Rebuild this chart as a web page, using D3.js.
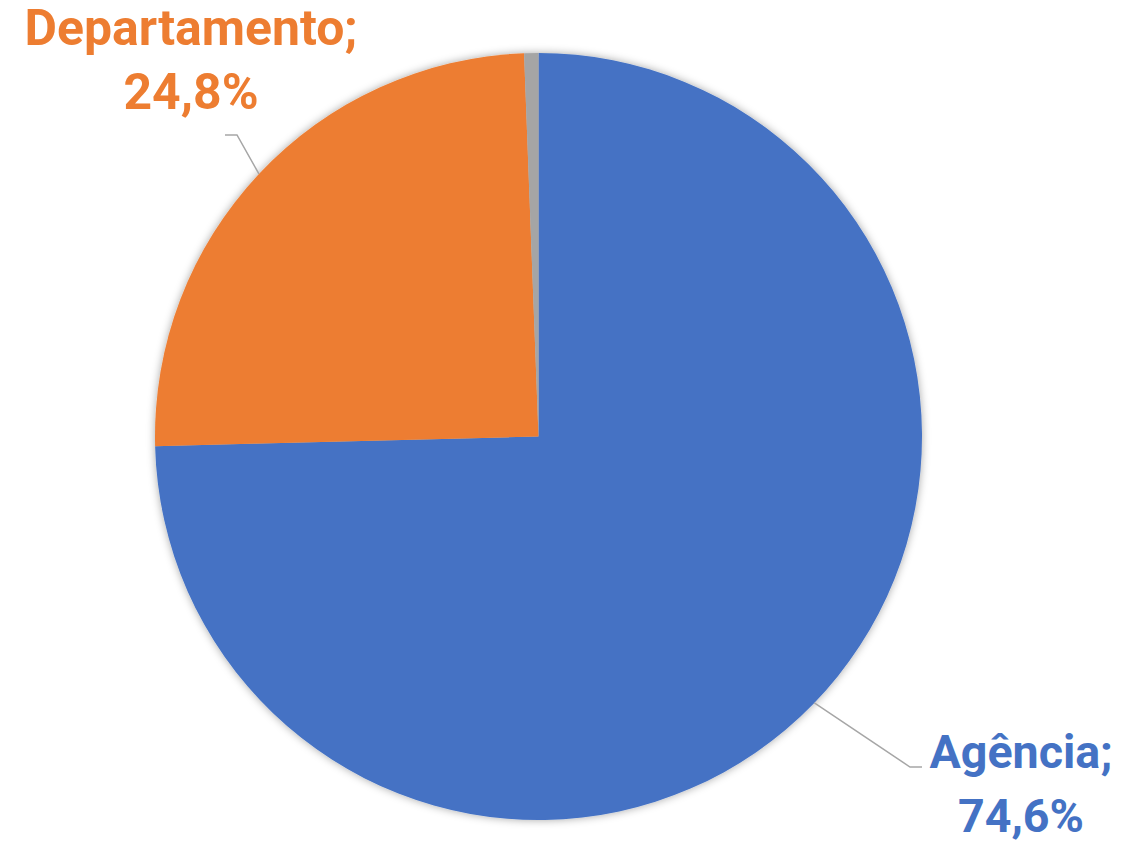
<!DOCTYPE html>
<html>
<head>
  <meta charset="utf-8">
  <script src="https://d3js.org/d3.v7.min.js"></script>
  <style>
    body { margin: 0; background: #fff; }
    text { font-family: Roboto, "Open Sans", sans-serif; font-weight: bold; }
  </style>
</head>
<body>
  <svg id="chart" width="1125" height="841"></svg>
  <script>
    // data
    const categories = ["Agência", "Departamento", "Outros"];
    const shares = [74.6, 24.8, 0.6];
    const colors = ["#4472C4", "#ED7D31", "#A5A5A5"];

    const svg = d3.select("#chart");
    const cx = 538.5, cy = 436.5, r = 383.5;

    const defs = svg.append("defs");
    defs.append("filter").attr("id", "shadow")
      .attr("x", "-10%").attr("y", "-10%").attr("width", "120%").attr("height", "120%")
      .append("feDropShadow")
      .attr("dx", 0).attr("dy", 0).attr("stdDeviation", 4)
      .attr("flood-color", "#000").attr("flood-opacity", 0.35);

    const pie = d3.pie().sort(null).value(d => d);
    const arcs = pie(shares);
    const arc = d3.arc().innerRadius(0).outerRadius(r);

    const g = svg.append("g").attr("transform", `translate(${cx},${cy})`);
    g.append("g").attr("filter", "url(#shadow)")
      .selectAll("path")
      .data(arcs)
      .enter()
      .append("path")
      .attr("d", arc)
      .attr("fill", (d, i) => colors[i]);

    // labels: [text lines, centre x, first baseline, leader angle (deg), elbow, end]
    const labels = [
      { i: 0, lines: ["Agência;", "74,6%"], x: 1021, y: 768, width: 183,
        ang: 134, elbow: [910, 767], end: [922, 767] },
      { i: 1, lines: ["Departamento;", "24,8%"], x: 191, y: 45, width: 333,
        ang: 313.2, elbow: [237, 135], end: [225, 135] }
    ];

    labels.forEach(l => {
      const a = l.ang * Math.PI / 180;
      const p0 = [cx + r * Math.sin(a), cy - r * Math.cos(a)];
      svg.append("path")
        .attr("d", d3.line()([p0, l.elbow, l.end]))
        .attr("fill", "none")
        .attr("stroke", "#A6A6A6")
        .attr("stroke-width", 1.5);

      const t = svg.append("text")
        .attr("text-anchor", "middle")
        .attr("fill", colors[l.i]);
      t.selectAll("tspan")
        .data(l.lines)
        .enter()
        .append("tspan")
        .attr("x", l.x)
        .attr("y", (d, k) => l.y + k * 64)
        .text(d => d);
      t.attr("font-size", 48);
      const w = t.select("tspan").node().getComputedTextLength();
      t.attr("font-size", 48 * l.width / w);
    });
  </script>
</body>
</html>
